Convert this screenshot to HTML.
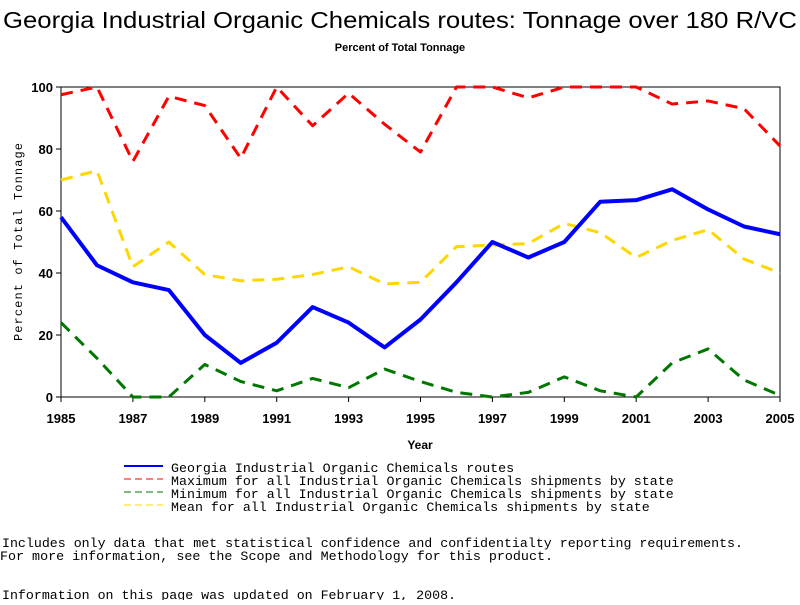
<!DOCTYPE html>
<html><head><meta charset="utf-8"><style>
body{margin:0;background:#fff;width:800px;height:600px;overflow:hidden}
svg text{font-family:"Liberation Mono","DejaVu Sans Mono",monospace}
</style></head><body>
<svg id="chart" width="800" height="600" xmlns="http://www.w3.org/2000/svg">
<text x="400" y="28" text-anchor="middle" style="font-family:'Liberation Sans',sans-serif;font-size:23px" textLength="794" lengthAdjust="spacingAndGlyphs">Georgia Industrial Organic Chemicals routes: Tonnage over 180 R/VC</text>
<text x="400" y="51" text-anchor="middle" style="font-family:'Liberation Sans',sans-serif;font-size:11px;font-weight:bold">Percent of Total Tonnage</text>
<g id="plot"></g>
<text x="420" y="449" text-anchor="middle" style="font-family:'Liberation Sans',sans-serif;font-size:12px;font-weight:bold">Year</text>
<text transform="translate(22,242) rotate(-90)" text-anchor="middle" font-size="12" textLength="198" lengthAdjust="spacing">Percent of Total Tonnage</text>
<g font-size="13.3">
<line x1="124" y1="466" x2="163" y2="466" stroke="#0000ff" stroke-width="2"/>
<text x="171" y="472">Georgia Industrial Organic Chemicals routes</text>
<line x1="124" y1="479" x2="163" y2="479" stroke="#ff0000" stroke-width="1" stroke-dasharray="7,4"/>
<text x="171" y="485">Maximum for all Industrial Organic Chemicals shipments by state</text>
<line x1="124" y1="492" x2="163" y2="492" stroke="#007700" stroke-width="1" stroke-dasharray="7,4"/>
<text x="171" y="498">Minimum for all Industrial Organic Chemicals shipments by state</text>
<line x1="124" y1="505" x2="163" y2="505" stroke="#ffd700" stroke-width="1" stroke-dasharray="7,4"/>
<text x="171" y="511">Mean for all Industrial Organic Chemicals shipments by state</text>
</g>
<g font-size="13.3">
<text x="2" y="547" textLength="741" lengthAdjust="spacingAndGlyphs">Includes only data that met statistical confidence and confidentialty reporting requirements.</text>
<text x="0" y="560" textLength="553" lengthAdjust="spacingAndGlyphs">For more information, see the Scope and Methodology for this product.</text>
<text x="2" y="599" textLength="454" lengthAdjust="spacingAndGlyphs">Information on this page was updated on February 1, 2008.</text>
</g>
</svg>
<script>
const years=[1985,1986,1987,1988,1989,1990,1991,1992,1993,1994,1995,1996,1997,1998,1999,2000,2001,2002,2003,2004,2005];
const georgia=[58,42.5,37,34.5,20,11,17.5,29,24,16,25,37,50,45,50,63,63.5,67,60.5,55,52.5];
const maxVals=[97.5,100,76,97,94,77,100,87.5,98,88,79,100,100,96.5,100,100,100,94.5,95.5,93,81];
const meanVals=[70,73,42,50,39.5,37.5,38,39.5,42,36.5,37,48.5,49,49.5,56,53,45,50.5,54,44.5,40];
const minVals=[24,12.5,0,0,10.5,5,2,6,3,9,5,1.5,0,1.5,6.5,2,0,11,15.5,5.5,0.5];
const yTicks=[0,20,40,60,80,100];
const xTicks=[1985,1987,1989,1991,1993,1995,1997,1999,2001,2003,2005];
const NS="http://www.w3.org/2000/svg";
const L=61,R=780,T=87,B=397;
const xs=v=>L+(v-1985)/(2005-1985)*(R-L);
const ys=v=>B-v/100*(B-T);
const g=document.getElementById('plot');
function mk(t,a){const e=document.createElementNS(NS,t);for(const k in a)e.setAttribute(k,a[k]);g.appendChild(e);return e;}
const frame=mk('rect',{x:L,y:T,width:R-L,height:B-T,fill:'none',stroke:'#000','stroke-width':1});


yTicks.forEach(v=>{
 const t=mk('line',{x1:L-5,x2:L,y1:ys(v),y2:ys(v),stroke:'#000'});
 
 
 const tx=mk('text',{x:L-8,y:ys(v)+5,'text-anchor':'end','font-size':'13','font-weight':'bold',style:"font-family:'Liberation Sans',sans-serif"});
 tx.textContent=v;
 
 
});
xTicks.forEach(v=>{
 const t=mk('line',{x1:xs(v),x2:xs(v),y1:B,y2:B+5,stroke:'#000'});
 
 
 const tx=mk('text',{x:xs(v),y:B+26,'text-anchor':'middle','font-size':'13','font-weight':'bold',style:"font-family:'Liberation Sans',sans-serif"});
 tx.textContent=v;
 
 
});
function series(vals,color,w,dash,name){
 const p=mk('polyline',{points:vals.map((v,i)=>xs(years[i])+','+ys(v)).join(' '),fill:'none',stroke:color,'stroke-width':w,'stroke-linejoin':'round'});
 if(dash)p.setAttribute('stroke-dasharray',dash);
 
 
}
series(maxVals,'#ff0000',3,'12,8','max-line');
series(meanVals,'#ffd700',3,'12,8','mean-line');
series(minVals,'#007700',3,'12,8','min-line');
series(georgia,'#0000ff',4,null,'georgia-line');
</script>
</body></html>
